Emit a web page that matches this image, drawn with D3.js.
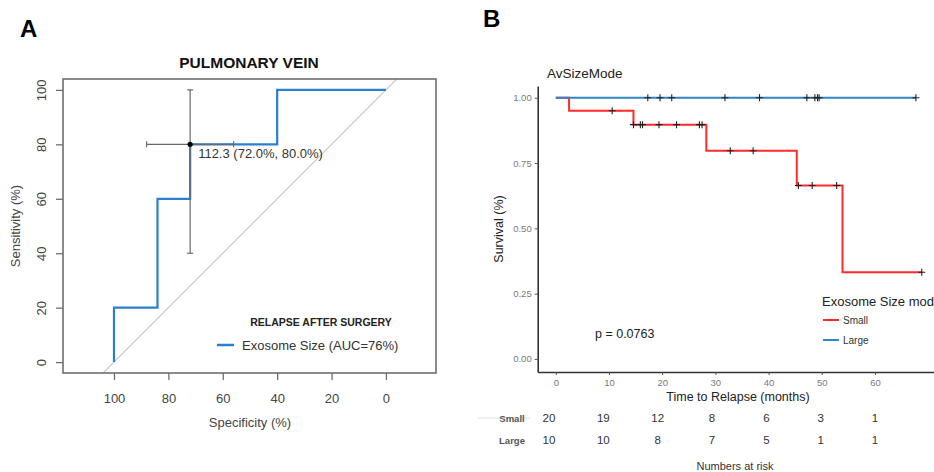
<!DOCTYPE html>
<html><head><meta charset="utf-8">
<script src="https://cdn.jsdelivr.net/npm/d3@7"></script>
<style>
html,body{margin:0;padding:0;background:#fff;}
svg{display:block;font-family:"Liberation Sans",Arial,sans-serif;}
</style></head>
<body>
<svg id="c" width="934" height="472"></svg>
<script>
// ---------- Panel A data (ROC) ----------
const rocSpec = [100, 100, 84, 84, 72, 72, 40, 40, 0];
const rocSens = [0, 20, 20, 60, 60, 80, 80, 100, 100];
const rocTicks = [100, 80, 60, 40, 20, 0];
const bestSpec = 72, bestSens = 80;
const ciSpec = [88, 56];
const ciSens = [40, 100];
const bestLabel = "112.3 (72.0%, 80.0%)";
const rocLegend = "Exosome Size (AUC=76%)";

// ---------- Panel B data (Kaplan-Meier) ----------
const groups = ["Small", "Large"];
const smallEventTimes = [0, 2.5, 14.6, 28.3, 45.3, 53.9];
const smallSurv = [1, 0.95, 0.897, 0.797, 0.664, 0.332];
const smallEnd = 68.8;
const largeEventTimes = [0];
const largeSurv = [1];
const largeEnd = 67.7;
const smallCensor = [10.6, 14.6, 15.9, 16.3, 19.4, 22.7, 27.0, 27.5, 32.8, 37.1, 45.6, 48.2, 52.8, 68.8];
const largeCensor = [17.3, 19.6, 21.8, 31.8, 38.3, 47.2, 48.7, 49.2, 49.5, 67.7];
const kmXTicks = [0, 10, 20, 30, 40, 50, 60];
const kmYTicks = [0, 0.25, 0.5, 0.75, 1];
const riskTimes = [0, 10, 20, 30, 40, 50, 60];
const riskSmall = [20, 19, 12, 8, 6, 3, 1];
const riskLarge = [10, 10, 8, 7, 5, 1, 1];
const pText = "p = 0.0763";

const colSmall = "#ff2a2a", colLarge = "#2f86c6", colRoc = "#2a7fd0";

const svg = d3.select("#c");

// ================= PANEL A =================
const xA = d3.scaleLinear().domain([118.75, -18.4]).range([63, 436]);
const yA = d3.scaleLinear().domain([-4, 104]).range([373, 79]);
const gA = svg.append("g");

gA.append("text").attr("x", 20).attr("y", 37).attr("font-size", 24).attr("font-weight", "bold").text("A");
gA.append("text").attr("x", 249).attr("y", 68).attr("text-anchor", "middle")
  .attr("font-size", 15.5).attr("font-weight", "bold").attr("fill", "#111").text("PULMONARY VEIN");

gA.append("clipPath").attr("id", "clipA").append("rect")
  .attr("x", xA.range()[0]).attr("y", yA.range()[1])
  .attr("width", xA.range()[1] - xA.range()[0]).attr("height", yA.range()[0] - yA.range()[1]);

// diagonal reference line
gA.append("line").attr("clip-path", "url(#clipA)")
  .attr("x1", xA(120)).attr("y1", yA(-20)).attr("x2", xA(-20)).attr("y2", yA(120))
  .attr("stroke", "#c4c4c4").attr("stroke-width", 1.1);

// ROC curve
const rocPts = rocSpec.map((s, i) => [s, rocSens[i]]);
gA.append("path").datum(rocPts)
  .attr("d", d3.line().x(d => xA(d[0])).y(d => yA(d[1])))
  .attr("fill", "none").attr("stroke", colRoc).attr("stroke-width", 2.2);

// CI bars
const ciCol = "#6a6a6a";
gA.append("line").attr("x1", xA(bestSpec)).attr("x2", xA(bestSpec)).attr("y1", yA(ciSens[0])).attr("y2", yA(ciSens[1]))
  .attr("stroke", ciCol).attr("stroke-width", 1.2);
ciSens.forEach(v => gA.append("line").attr("x1", xA(bestSpec) - 3).attr("x2", xA(bestSpec) + 3)
  .attr("y1", yA(v)).attr("y2", yA(v)).attr("stroke", ciCol).attr("stroke-width", 1.2));
gA.append("line").attr("y1", yA(bestSens)).attr("y2", yA(bestSens)).attr("x1", xA(ciSpec[0])).attr("x2", xA(ciSpec[1]))
  .attr("stroke", ciCol).attr("stroke-width", 1.2);
ciSpec.forEach(v => gA.append("line").attr("y1", yA(bestSens) - 3).attr("y2", yA(bestSens) + 3)
  .attr("x1", xA(v)).attr("x2", xA(v)).attr("stroke", ciCol).attr("stroke-width", 1.2));
gA.append("circle").attr("cx", xA(bestSpec)).attr("cy", yA(bestSens)).attr("r", 2.6).attr("fill", "#000");
gA.append("text").attr("x", xA(bestSpec) + 8).attr("y", yA(bestSens) + 14)
  .attr("font-size", 13).attr("fill", "#333").text(bestLabel);

// box
gA.append("rect").attr("x", xA.range()[0]).attr("y", yA.range()[1])
  .attr("width", xA.range()[1] - xA.range()[0]).attr("height", yA.range()[0] - yA.range()[1])
  .attr("fill", "none").attr("stroke", "#6e6e6e").attr("stroke-width", 1.6);

// axes
const axA_y = gA.append("g").attr("transform", `translate(${xA.range()[0]},0)`)
  .call(d3.axisLeft(yA).tickValues(rocTicks.slice().reverse()).tickSize(7).tickSizeOuter(0));
axA_y.select(".domain").remove();
axA_y.selectAll(".tick line").attr("stroke", "#6e6e6e").attr("stroke-width", 1.3);
axA_y.selectAll(".tick text").attr("transform", "rotate(-90)").attr("x", 0).attr("y", -17).attr("dy", 0)
  .attr("text-anchor", "middle").attr("font-size", 13).attr("fill", "#444").attr("font-family", null);

const axA_x = gA.append("g").attr("transform", `translate(0,${yA.range()[0]})`)
  .call(d3.axisBottom(xA).tickValues(rocTicks).tickSize(7).tickSizeOuter(0));
axA_x.select(".domain").remove();
axA_x.selectAll(".tick line").attr("stroke", "#6e6e6e").attr("stroke-width", 1.3);
axA_x.selectAll(".tick text").attr("y", 30).attr("dy", 0).attr("font-size", 13).attr("fill", "#444").attr("font-family", null);

gA.append("text").attr("x", 250).attr("y", 427).attr("text-anchor", "middle").attr("font-size", 13).attr("fill", "#444").text("Specificity (%)");
gA.append("text").attr("transform", `translate(20,${(yA.range()[0] + yA.range()[1]) / 2}) rotate(-90)`)
  .attr("text-anchor", "middle").attr("font-size", 13).attr("fill", "#444").text("Sensitivity (%)");

// legend A
gA.append("text").attr("x", 321).attr("y", 326).attr("text-anchor", "middle").attr("font-size", 10.5)
  .attr("font-weight", "bold").attr("fill", "#222").text("RELAPSE AFTER SURGERY");
gA.append("line").attr("x1", 217).attr("x2", 234).attr("y1", 345).attr("y2", 345).attr("stroke", colRoc).attr("stroke-width", 2.5);
gA.append("text").attr("x", 242).attr("y", 350).attr("font-size", 13).attr("fill", "#333").text(rocLegend);

// ================= PANEL B =================
const xB = d3.scaleLinear().domain([-3.4, 71.1]).range([537.7, 934]);
const yB = d3.scaleLinear().domain([-0.05, 1.045]).range([372, 86]);
const gB = svg.append("g");

gB.append("text").attr("x", 483).attr("y", 27).attr("font-size", 24).attr("font-weight", "bold").text("B");
gB.append("text").attr("x", 547).attr("y", 78).attr("font-size", 13.5).attr("fill", "#222").text("AvSizeMode");

function stepPts(times, surv, end) {
  const pts = times.map((t, i) => [t, surv[i]]);
  pts.push([end, surv[surv.length - 1]]);
  return pts;
}
function survAt(times, surv, t) {
  let s = surv[0];
  times.forEach((tt, i) => { if (tt <= t) s = surv[i]; });
  return s;
}
const stepLine = d3.line().x(d => xB(d[0])).y(d => yB(d[1])).curve(d3.curveStepAfter);

gB.append("path").datum(stepPts(smallEventTimes, smallSurv, smallEnd)).attr("d", stepLine)
  .attr("fill", "none").attr("stroke", colSmall).attr("stroke-width", 2);
gB.append("path").datum(stepPts(largeEventTimes, largeSurv, largeEnd)).attr("d", stepLine)
  .attr("fill", "none").attr("stroke", colLarge).attr("stroke-width", 2.2);

function censorMarks(times, evTimes, surv) {
  times.forEach(t => {
    const cx = xB(t), cy = yB(survAt(evTimes, surv, t));
    gB.append("path").attr("d", `M${cx - 3.5},${cy}H${cx + 3.5}M${cx},${cy - 3.5}V${cy + 3.5}`)
      .attr("stroke", "#222").attr("stroke-width", 1.1);
  });
}
censorMarks(smallCensor, smallEventTimes, smallSurv);
censorMarks(largeCensor, largeEventTimes, largeSurv);

// axes B
const axB_y = gB.append("g").attr("transform", `translate(${xB.range()[0]},0)`)
  .call(d3.axisLeft(yB).tickValues(kmYTicks).tickFormat(d3.format(".2f")).tickSize(3).tickSizeOuter(0));
axB_y.select(".domain").attr("stroke", "#333").attr("stroke-width", 1.6);
axB_y.selectAll(".tick line").attr("stroke", "#555");
axB_y.selectAll(".tick text").attr("font-size", 9.5).attr("fill", "#7a7a7a").attr("font-family", null).attr("x", -6);

const axB_x = gB.append("g").attr("transform", `translate(0,${yB.range()[0]})`)
  .call(d3.axisBottom(xB).tickValues(kmXTicks).tickSize(3).tickSizeOuter(0));
axB_x.select(".domain").attr("stroke", "#333").attr("stroke-width", 1.6);
axB_x.selectAll(".tick line").attr("stroke", "#555");
axB_x.selectAll(".tick text").attr("font-size", 9.5).attr("fill", "#7a7a7a").attr("font-family", null).attr("y", 7);

gB.append("text").attr("x", 738).attr("y", 401).attr("text-anchor", "middle").attr("font-size", 12.5).attr("fill", "#222").text("Time to Relapse (months)");
gB.append("text").attr("transform", `translate(503,229) rotate(-90)`).attr("text-anchor", "middle")
  .attr("font-size", 12.5).attr("fill", "#222").text("Survival (%)");

gB.append("text").attr("x", 595).attr("y", 338).attr("font-size", 12.5).attr("fill", "#222").text(pText);

// legend B
gB.append("text").attr("x", 822).attr("y", 306).attr("font-size", 13).attr("fill", "#222").text("Exosome Size mode");
[[groups[0], colSmall, 320], [groups[1], colLarge, 340]].forEach(([g, c, y]) => {
  gB.append("line").attr("x1", 823).attr("x2", 839).attr("y1", y).attr("y2", y).attr("stroke", c).attr("stroke-width", 2);
  gB.append("text").attr("x", 843).attr("y", y + 3.5).attr("font-size", 10).attr("fill", "#333").text(g);
});

// risk table
const xR = d3.scaleLinear().domain([0, 60]).range([549, 875]);
gB.append("line").attr("x1", 478).attr("x2", 530).attr("y1", 418).attr("y2", 418).attr("stroke", "#e2e2e2").attr("stroke-width", 1);
[[groups[0], riskSmall, 422], [groups[1], riskLarge, 444]].forEach(([g, arr, y]) => {
  gB.append("text").attr("x", 512).attr("y", y).attr("text-anchor", "middle").attr("font-size", 9.5)
    .attr("font-weight", "bold").attr("fill", "#555").text(g);
  gB.selectAll(null).data(riskTimes).enter().append("text")
    .attr("x", d => xR(d)).attr("y", y).attr("text-anchor", "middle").attr("font-size", 11.5).attr("fill", "#333")
    .text((d, i) => arr[i]);
});
gB.append("text").attr("x", 735).attr("y", 470).attr("text-anchor", "middle").attr("font-size", 11).attr("fill", "#333").text("Numbers at risk");
</script>
</body></html>
